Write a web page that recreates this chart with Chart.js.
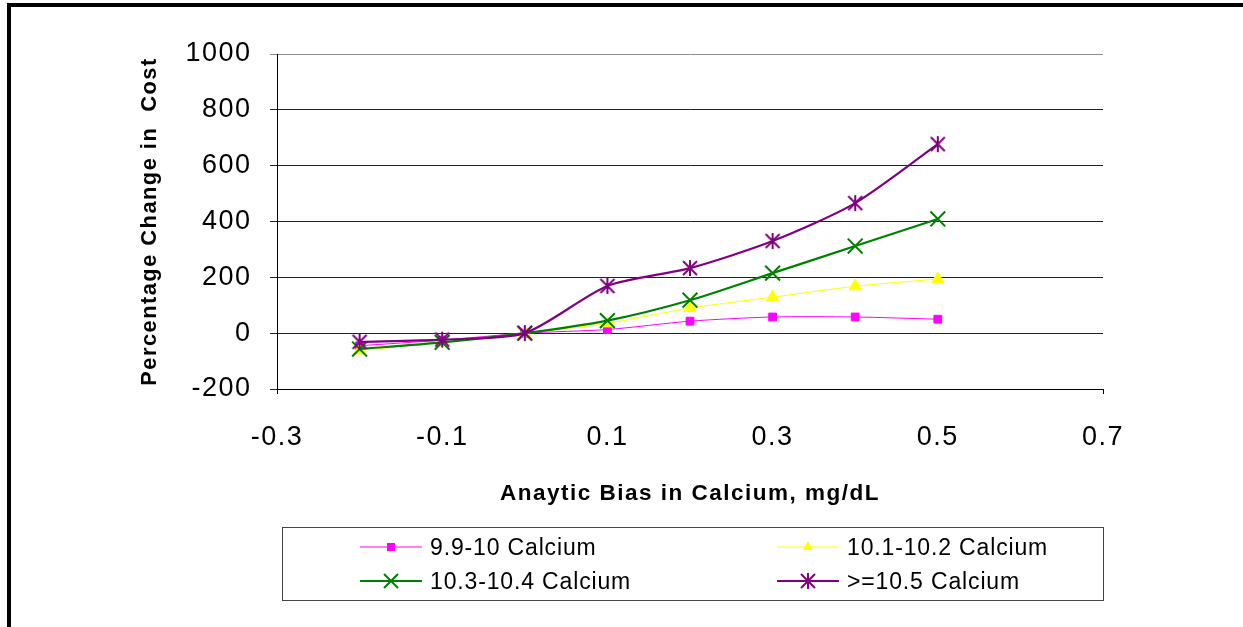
<!DOCTYPE html>
<html>
<head>
<meta charset="utf-8">
<script src="https://cdn.jsdelivr.net/npm/chart.js@4.4.0/dist/chart.umd.min.js"></script>
<style>
  html, body { margin: 0; padding: 0; background: #fff; overflow: hidden; }
  body { width: 1243px; height: 627px; position: relative; font-family: 'Liberation Sans', Arial, sans-serif; }
  #frame { position: absolute; left: 7px; top: 3px; right: 0; bottom: 0; border-top: 4px solid #000; border-left: 4px solid #000; }
  #chart { position: absolute; left: 0; top: 0; }
  #legend { position: absolute; left: 282px; top: 527px; width: 820px; height: 72px; border: 1px solid #444; }
  .item { position: absolute; height: 24px; }
  .item svg { position: absolute; top: 0; }
  .item span { position: absolute; top: 0; line-height: 24px; font-size: 23px; letter-spacing: 0.85px; white-space: nowrap; color: #000; }
</style>
</head>
<body>
<div id="frame"></div>
<canvas id="chart" width="1243" height="627"></canvas>
<div id="legend"></div>
<script>
// data
const xValues = [-0.2, -0.1, 0, 0.1, 0.2, 0.3, 0.4, 0.5];
const xTicks = [-0.3, -0.1, 0.1, 0.3, 0.5, 0.7];
const xTickLabels = ['-0.3', '-0.1', '0.1', '0.3', '0.5', '0.7'];
const yMin = -200, yMax = 1000, yStep = 200;

const seriesNames = ['9.9-10 Calcium', '10.1-10.2 Calcium', '10.3-10.4 Calcium', '>=10.5 Calcium'];
const calcium99 = [-45, -25, 0, 13, 43, 58, 58, 50];
const calcium101 = [-62, -33, 0, 35, 90, 129, 168, 194];
const calcium103 = [-57, -33, 0, 45, 118, 215, 312, 409];
const calcium105 = [-31, -23, 0, 169, 233, 330, 466, 677];

const colors = ['#FF00FF', '#FFFF00', '#008000', '#800080'];

function pts(vals) {
  return xValues.map((x, i) => ({ x: x, y: vals[i] }));
}

// Excel style star marker: X with a vertical bar
function starMarker(color) {
  const c = document.createElement('canvas');
  c.width = 18; c.height = 18;
  const g = c.getContext('2d');
  g.strokeStyle = color;
  g.lineWidth = 2;
  g.beginPath();
  g.moveTo(2, 2); g.lineTo(16, 16);
  g.moveTo(16, 2); g.lineTo(2, 16);
  g.moveTo(9, 1); g.lineTo(9, 17);
  g.stroke();
  return c;
}

const font = "'Liberation Sans', Arial, sans-serif";
const LS = '1.5px';

// wide text like the original
const spacing = {
  id: 'spacing',
  beforeUpdate(c) { c.ctx.letterSpacing = LS; },
  beforeLayout(c) { c.ctx.letterSpacing = LS; },
  beforeDraw(c) { c.ctx.letterSpacing = LS; }
};

const base = { showLine: true, tension: 0.25, pointBorderWidth: 1 };

new Chart(document.getElementById('chart'), {
  type: 'scatter',
  data: {
    datasets: [
      Object.assign({}, base, {
        label: seriesNames[0], data: pts(calcium99), order: 4,
        borderColor: colors[0], borderWidth: 1,
        pointStyle: 'rect', pointRadius: 5.5, pointBackgroundColor: colors[0], pointBorderColor: colors[0]
      }),
      Object.assign({}, base, {
        label: seriesNames[1], data: pts(calcium101), order: 3,
        borderColor: colors[1], borderWidth: 1,
        pointStyle: 'triangle', pointRadius: 7, pointBackgroundColor: colors[1], pointBorderColor: colors[1]
      }),
      Object.assign({}, base, {
        label: seriesNames[2], data: pts(calcium103), order: 2,
        borderColor: colors[2], borderWidth: 2.2,
        pointStyle: 'crossRot', pointRadius: 10.5, pointBorderWidth: 2, pointBorderColor: colors[2]
      }),
      Object.assign({}, base, {
        label: seriesNames[3], data: pts(calcium105), order: 1,
        borderColor: colors[3], borderWidth: 2.2,
        pointStyle: starMarker(colors[3]), pointRadius: 9
      })
    ]
  },
  options: {
    responsive: false,
    animation: false,
    events: [],
    layout: { padding: { top: 54, right: 140, bottom: 119.5, left: 0 } },
    plugins: {
      legend: { display: false },
      tooltip: { enabled: false }
    },
    scales: {
      x: {
        type: 'linear',
        min: -0.3,
        max: 0.7,
        afterBuildTicks: s => { s.ticks = xTicks.map(v => ({ value: v })); },
        afterFit: s => { s.height = 118.5; },
        ticks: {
          callback: (v, i) => xTickLabels[i],
          color: '#000',
          font: { family: font, size: 27 },
          padding: 27,
          maxRotation: 0,
          autoSkip: false
        },
        grid: {
          drawOnChartArea: false,
          tickLength: 5,
          color: c => (c.index === 0 || c.index === xTicks.length - 1) ? '#000' : 'rgba(0,0,0,0)'
        },
        border: { color: '#000', width: 1 },
        title: {
          display: true,
          text: 'Anaytic Bias in Calcium, mg/dL',
          color: '#000',
          font: { family: font, size: 22.5, weight: 'bold' },
          padding: 0
        }
      },
      y: {
        min: yMin,
        max: yMax,
        afterFit: s => { s.width = 277; },
        ticks: {
          stepSize: yStep,
          callback: v => String(v),
          color: '#000',
          font: { family: font, size: 27 },
          padding: 18.5
        },
        grid: {
          color: c => (c.tick && c.tick.value === yMax) ? '#8c8c8c' : '#222',
          lineWidth: 1,
          tickLength: 7
        },
        border: { color: '#000', width: 1 },
        title: {
          display: true,
          text: 'Percentage Change in  Cost',
          color: '#000',
          font: { family: font, size: 21.8, weight: 'bold' },
          padding: { top: 137, bottom: 0 }
        }
      }
    }
  },
  plugins: [spacing]
});

// legend box, two columns
const markers = [
  c => `<rect x="27" y="8" width="8" height="8" fill="${c}"/>`,
  c => `<polygon points="31,6 36,15 26,15" fill="${c}"/>`,
  c => `<path d="M24 5 L38 19 M38 5 L24 19" stroke="${c}" stroke-width="2"/>`,
  c => `<path d="M24 5 L38 19 M38 5 L24 19 M31 4 L31 20" stroke="${c}" stroke-width="2"/>`
];
const lineWidths = [1, 1, 2, 2];
const legend = document.getElementById('legend');
seriesNames.forEach((name, i) => {
  const col = i % 2, row = Math.floor(i / 2);
  const item = document.createElement('div');
  item.className = 'item';
  item.style.left = (col ? 494 : 77) + 'px';
  item.style.top = (row ? 41 : 7) + 'px';
  item.innerHTML =
    `<svg width="62" height="24" style="left:0"><line x1="0" y1="12" x2="62" y2="12" stroke="${colors[i]}" stroke-width="${lineWidths[i]}"/>${markers[i](colors[i])}</svg>` +
    `<span style="left:70px">${name.replace('>', '&gt;')}</span>`;
  legend.appendChild(item);
});
</script>
</body>
</html>
